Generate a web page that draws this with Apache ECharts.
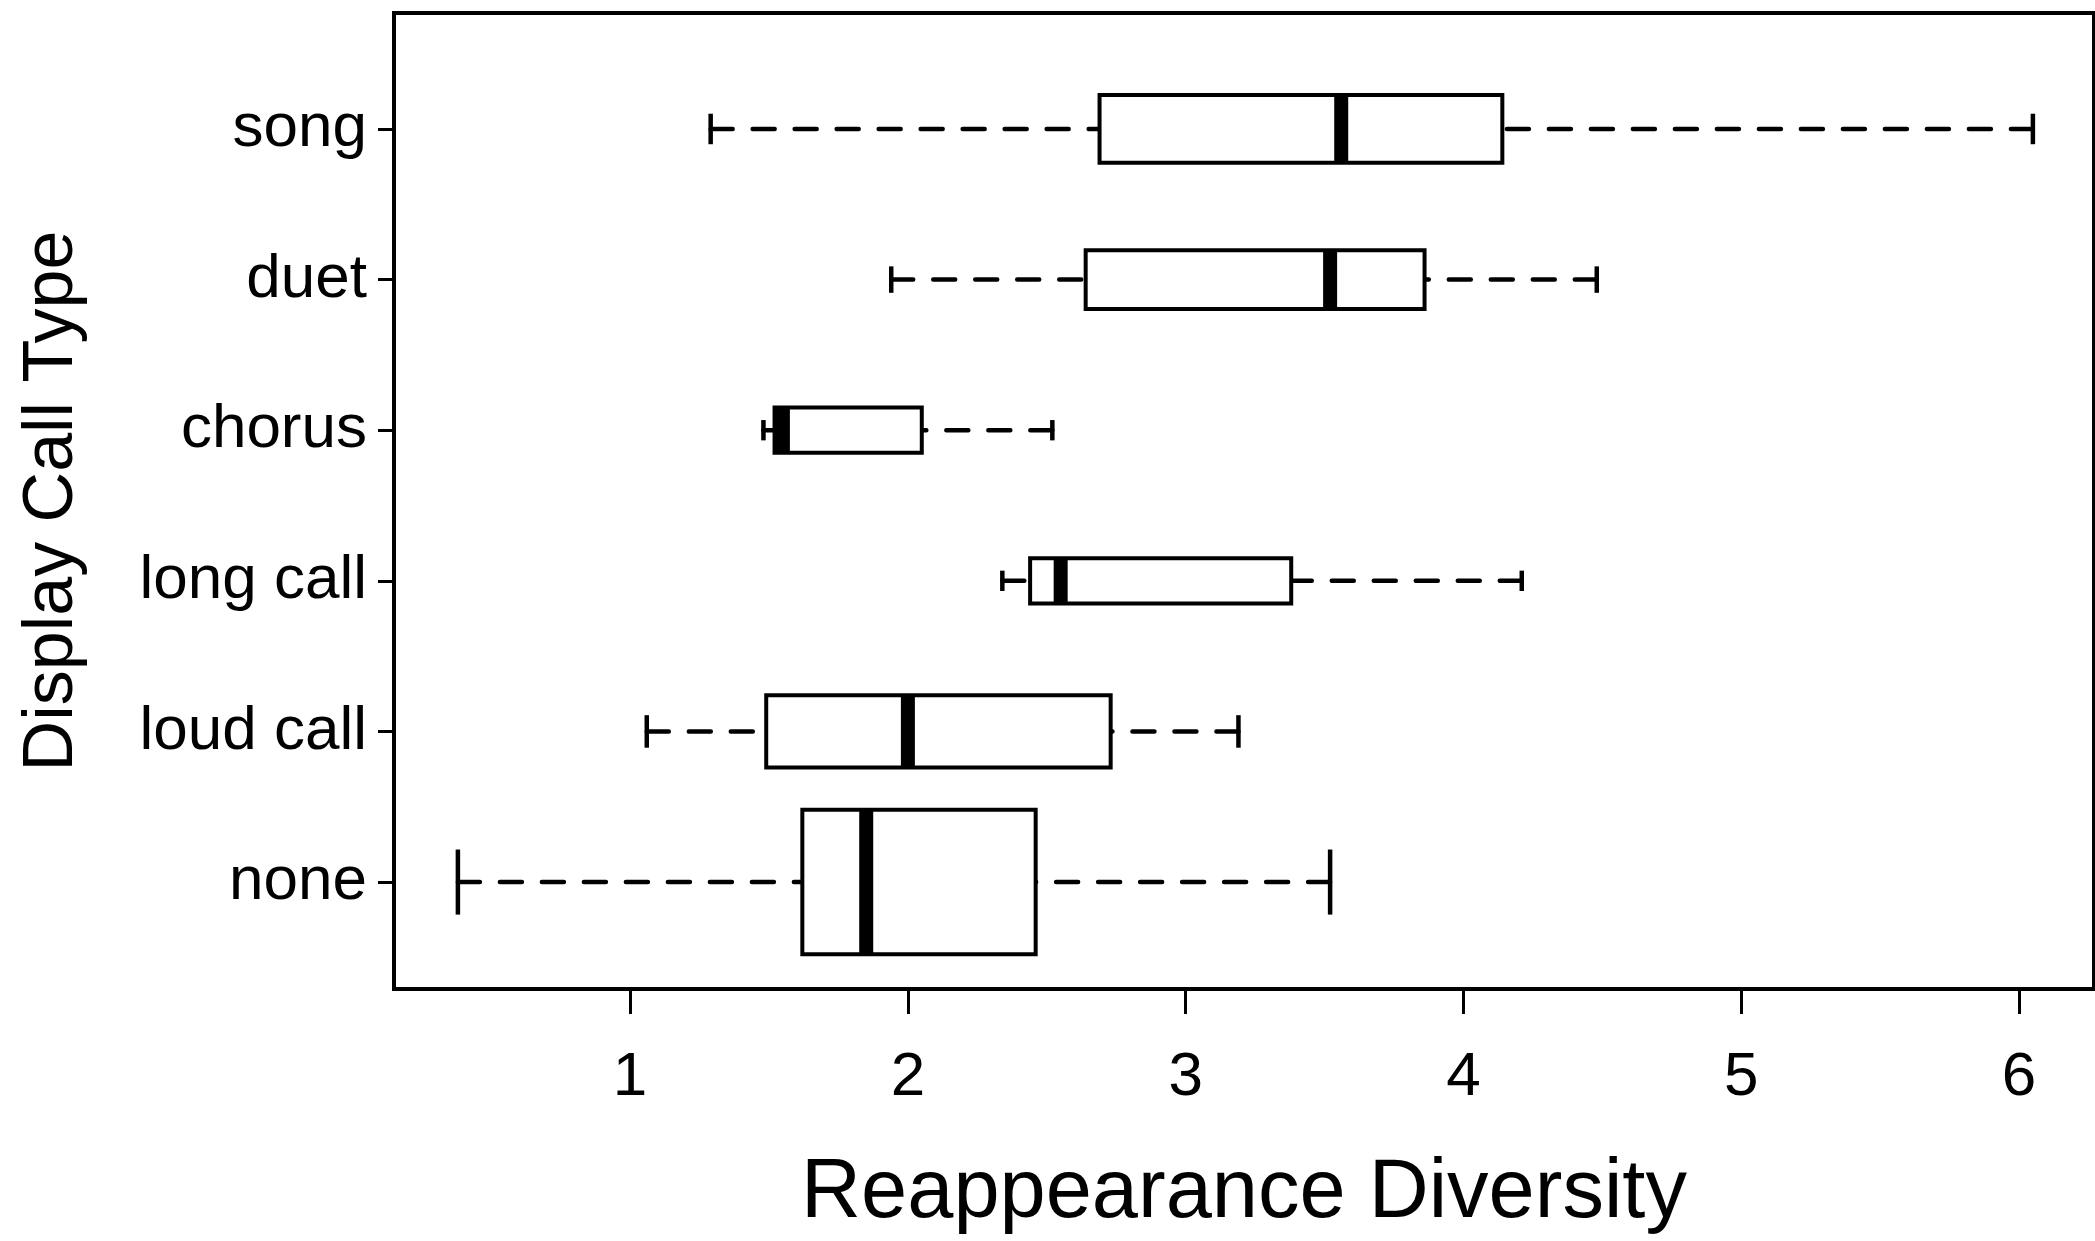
<!DOCTYPE html>
<html>
<head>
<meta charset="utf-8">
<script src="https://cdn.jsdelivr.net/npm/echarts@6/dist/echarts.min.js"></script>
<style>
html,body{margin:0;padding:0;background:#fff;}
#chart{width:2095px;height:1241px;}
</style>
</head>
<body>
<div id="chart"></div>
<script>
// Categories (bottom to top)
const categories = ['none', 'loud call', 'long call', 'chorus', 'duet', 'song'];
// Five-number summaries per category: lower whisker, Q1, median, Q3, upper whisker
const lowerWhisker = [0.38, 1.06, 2.34, 1.48, 1.94, 1.29];
const q1Values     = [1.62, 1.49, 2.44, 1.52, 2.64, 2.69];
const medianValues = [1.85, 2.00, 2.55, 1.55, 3.52, 3.56];
const q3Values     = [2.46, 2.73, 3.38, 2.05, 3.86, 4.14];
const upperWhisker = [3.52, 3.19, 4.21, 2.52, 4.48, 6.05];
// Relative box widths (variable width boxes), in category units
const boxWidths    = [0.96, 0.48, 0.30, 0.30, 0.39, 0.45];
// Tick labels
const xTicks = [1, 2, 3, 4, 5, 6];
const yTicks = [1, 2, 3, 4, 5, 6];

const FONT = '"Liberation Sans", Arial, Helvetica, sans-serif';

const data = categories.map((c, i) => [i + 1, lowerWhisker[i], q1Values[i], medianValues[i], q3Values[i], upperWhisker[i], boxWidths[i]]);

function renderItem(params, api) {
  const y = api.value(0);
  const lo = api.value(1), q1 = api.value(2), md = api.value(3), q3 = api.value(4), hi = api.value(5);
  const w = api.value(6);
  const h = api.size([0, w])[1];
  const pLo = api.coord([lo, y]);
  const pQ1 = api.coord([q1, y]);
  const pMd = api.coord([md, y]);
  const pQ3 = api.coord([q3, y]);
  const pHi = api.coord([hi, y]);
  const cy = pLo[1];
  const capH = h * 0.45;
  const dashStyle = {stroke: '#000', lineWidth: 4.5, lineDash: [22, 20], lineCap: 'round'};
  const solid = {stroke: '#000', lineWidth: 4.5, lineCap: 'butt'};
  return {
    type: 'group',
    children: [
      {type: 'line', shape: {x1: pLo[0], y1: cy, x2: pQ1[0], y2: cy}, style: dashStyle},
      {type: 'line', shape: {x1: pHi[0], y1: cy, x2: pQ3[0], y2: cy}, style: dashStyle},
      {type: 'line', shape: {x1: pLo[0], y1: cy - capH / 2, x2: pLo[0], y2: cy + capH / 2}, style: solid},
      {type: 'line', shape: {x1: pHi[0], y1: cy - capH / 2, x2: pHi[0], y2: cy + capH / 2}, style: solid},
      {type: 'rect', shape: {x: pQ1[0], y: cy - h / 2, width: pQ3[0] - pQ1[0], height: h},
        style: {fill: '#fff', stroke: '#000', lineWidth: 4}},
      {type: 'line', shape: {x1: pMd[0], y1: cy - h / 2, x2: pMd[0], y2: cy + h / 2},
        style: {stroke: '#000', lineWidth: 14, lineCap: 'butt'}}
    ]
  };
}

const chart = echarts.init(document.getElementById('chart'), null, {renderer: 'canvas'});
chart.setOption({
  animation: false,
  backgroundColor: '#fff',
  grid: {left: 394, top: 13, right: 1, bottom: 250, show: true, borderColor: '#000', borderWidth: 4, backgroundColor: 'transparent'},
  xAxis: {
    type: 'value', min: 0.15, max: 6.27,
    name: 'Reappearance Diversity', nameLocation: 'middle', nameGap: 164,
    nameTextStyle: {fontFamily: FONT, fontSize: 83, color: '#000'},
    axisLine: {show: true, lineStyle: {color: '#000', width: 4}},
    axisTick: {show: true, length: 25, lineStyle: {color: '#000', width: 3}, customValues: xTicks},
    axisLabel: {show: true, margin: 58, fontFamily: FONT, fontSize: 62, color: '#000', customValues: xTicks},
    splitLine: {show: false}
  },
  yAxis: {
    type: 'value', min: 0.29, max: 6.77,
    name: 'Display Call Type', nameLocation: 'middle', nameGap: 306, nameRotate: 90,
    nameTextStyle: {fontFamily: FONT, fontSize: 70, color: '#000'},
    axisLine: {show: true, lineStyle: {color: '#000', width: 4}},
    axisTick: {show: true, length: 16, lineStyle: {color: '#000', width: 3}, customValues: yTicks},
    axisLabel: {show: true, margin: 27, fontFamily: FONT, fontSize: 62, color: '#000', customValues: yTicks,
      formatter: v => categories[Math.round(v) - 1] || ''},
    splitLine: {show: false}
  },
  series: [{
    type: 'custom',
    renderItem: renderItem,
    encode: {y: 0, x: [1, 2, 3, 4, 5]},
    data: data,
    clip: false
  }]
});
</script>
</body>
</html>
